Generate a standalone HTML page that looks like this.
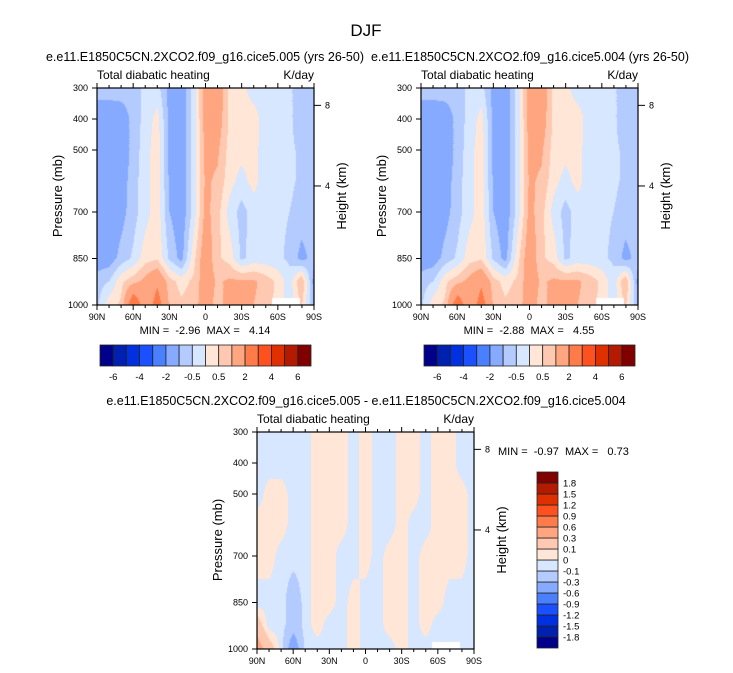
<!DOCTYPE html>
<html><head><meta charset="utf-8">
<style>
body{margin:0;background:#fff;}
#root{position:relative;width:733px;height:673px;overflow:hidden;font-family:"Liberation Sans",sans-serif;}
canvas{position:absolute;}
svg{position:absolute;left:0;top:0;}
text{white-space:pre;}
</style></head>
<body>
<div id="root">
<canvas id="c1" width="217" height="217" style="left:97px;top:88px"></canvas>
<canvas id="c2" width="217" height="217" style="left:421px;top:88px"></canvas>
<canvas id="c3" width="217" height="217" style="left:257px;top:432px"></canvas>
<svg id="svg" width="733" height="673"></svg>
</div>
<script>
// ---- data ----
const lats = [90,80,70,60,50,40,30,20,10,0,-10,-20,-30,-40,-50,-60,-70,-80,-90];
const pressures = [300,400,500,600,700,850,925,1000];
const fieldA = [
 [-0.7,-0.7,-0.7,-0.7,-0.4,-0.3,-1.2,-1.4,-0.3,1.3,1.5,0.4,0.2,-0.3,-0.3,-0.3,-0.4,-0.8,-0.6],
 [-1.5,-1.5,-1.4,-0.8,-0.3,0.2,-1.2,-1.4,-0.3,1.3,1.4,0.4,0.3,0.3,-0.3,-0.3,-0.4,-0.8,-0.7],
 [-1.5,-1.5,-1.4,-0.8,-0.2,0.3,-1.2,-1.4,-0.3,1.2,1.1,0.3,0.2,0.2,-0.3,-0.3,-0.4,-0.6,-0.6],
 [-1.5,-1.5,-1.3,-0.7,-0.2,0.3,-1.1,-1.4,-0.3,1.1,0.9,0.2,-0.2,0.2,-0.3,-0.3,-0.4,-0.6,-0.6],
 [-1.5,-1.5,-1.2,-0.7,-0.2,0.3,-1.0,-1.4,-0.3,1.2,0.7,-0.2,-0.7,-0.3,-0.3,-0.4,-0.5,-0.7,-0.6],
 [-1.4,-1.3,-0.8,-0.4,0.3,0.4,-0.6,-1.2,0.3,1.5,0.6,0.3,-0.6,-0.3,-0.3,-0.4,-0.6,-1.2,-0.8],
 [-0.7,-0.5,0.4,0.8,1.2,1.8,0.7,0.3,0.6,1.4,0.9,1.1,1.1,1.1,0.8,0.4,-0.3,1.0,-1.2],
 [-0.6,0.3,0.6,3.0,1.2,2.5,0.9,0.6,0.8,1.3,0.8,1.2,1.2,1.0,0.8,0.3,-0.3,0.6,-1.0]
];
const fieldB = [
 [-0.7,-0.7,-0.7,-0.7,-0.4,-0.3,-1.2,-1.4,-0.3,1.3,1.5,0.4,0.2,-0.3,-0.3,-0.3,-0.4,-0.8,-0.6],
 [-1.5,-1.5,-1.4,-0.8,-0.3,0.2,-1.2,-1.4,-0.3,1.3,1.4,0.4,0.3,0.3,-0.3,-0.3,-0.4,-0.8,-0.7],
 [-1.5,-1.5,-1.4,-0.8,-0.2,0.3,-1.2,-1.4,-0.3,1.2,1.1,0.3,0.2,0.2,-0.3,-0.3,-0.4,-0.6,-0.6],
 [-1.5,-1.5,-1.3,-0.7,-0.2,0.3,-1.1,-1.4,-0.3,1.1,0.9,0.2,-0.2,0.2,-0.3,-0.3,-0.4,-0.6,-0.6],
 [-1.5,-1.5,-1.2,-0.7,-0.2,0.3,-1.0,-1.4,-0.3,1.2,0.7,-0.2,-0.7,-0.3,-0.3,-0.4,-0.5,-0.7,-0.6],
 [-1.4,-1.3,-0.8,-0.4,0.3,0.4,-0.6,-1.2,0.3,1.5,0.6,0.3,-0.6,-0.3,-0.3,-0.4,-0.6,-1.2,-0.8],
 [-0.7,-0.5,0.4,0.8,1.2,1.8,0.7,0.3,0.6,1.4,0.9,1.1,1.1,1.1,0.8,0.4,-0.3,1.0,-1.2],
 [-0.6,0.3,0.6,2.8,1.2,2.5,0.9,0.6,0.8,1.3,0.8,1.2,1.2,1.0,0.8,0.3,-0.3,0.6,-1.0]
];
const fieldDiff = [
 [-0.05,-0.05,-0.05,-0.05,-0.05,0.05,0.05,0.05,-0.05,0.05,-0.05,-0.05,0.05,0.05,-0.05,0.05,0.05,-0.05,-0.05],
 [-0.05,-0.05,-0.05,-0.05,-0.05,0.05,0.05,0.05,-0.05,0.05,-0.05,-0.05,0.05,0.05,-0.05,0.05,0.05,-0.05,-0.05],
 [-0.05,0.05,0.05,-0.05,-0.05,0.05,0.05,0.05,-0.05,0.05,-0.05,-0.05,0.05,0.05,-0.05,0.05,0.05,0.05,-0.05],
 [0.05,0.05,0.05,-0.05,-0.05,0.05,0.05,0.05,-0.05,0.05,-0.05,-0.05,0.05,-0.05,-0.05,0.05,0.05,0.05,-0.05],
 [0.05,0.05,-0.05,-0.05,-0.05,0.05,0.05,-0.05,-0.05,0.05,-0.05,0.05,0.05,-0.05,0.05,0.05,0.05,0.05,-0.05],
 [-0.05,-0.05,-0.05,-0.2,-0.05,0.05,0.05,-0.05,0.05,-0.05,-0.05,0.05,0.05,-0.05,0.05,0.05,-0.05,-0.05,-0.05],
 [0.2,-0.05,-0.05,-0.2,-0.05,0.05,-0.05,-0.05,0.05,-0.05,-0.05,0.05,0.05,-0.05,0.05,-0.05,-0.05,-0.05,-0.05],
 [0.4,0.2,-0.05,-0.5,-0.05,-0.05,-0.05,-0.05,0.05,-0.05,-0.05,-0.05,0.05,-0.05,-0.05,-0.05,-0.05,-0.05,-0.05]
];
const levelsTop = [-6,-5,-4,-3,-2,-1,-0.5,0,0.5,1,2,3,4,5,6];
const levelLabelsTop = ["-6","-4","-2","-0.5","0.5","2","4","6"];
const levelsDiff = [-1.8,-1.5,-1.2,-0.9,-0.6,-0.3,-0.1,0,0.1,0.3,0.6,0.9,1.2,1.5,1.8];
const levelLabelsDiff = ["-1.8","-1.5","-1.2","-0.9","-0.6","-0.3","-0.1","0","0.1","0.3","0.6","0.9","1.2","1.5","1.8"];
const palette = ["#00008b","#0020b0","#0030e0","#1a50ff","#4a80ff","#86aaff","#b4cbff","#d7e7ff","#ffe6d6","#ffc8b0","#ffa57f","#ff7c4a","#ff5020","#e03000","#b41a00","#800000"];
const xTickLabels = ["90N","60N","30N","0","30S","60S","90S"];
const xTickLats = [90,60,30,0,-30,-60,-90];
const pTicks = [300,400,500,700,850,1000];
const hTicks = [8,4];
const hTickP = [356,616];

// ---- drawing ----
const NS="http://www.w3.org/2000/svg";
const svg=document.getElementById('svg');
function el(tag,attrs,parent){const e=document.createElementNS(NS,tag);for(const k in attrs)e.setAttribute(k,attrs[k]);(parent||svg).appendChild(e);return e;}
function txt(x,y,s,size,anchor,extra){const t=el('text',Object.assign({x:x,y:y,'font-size':size,'text-anchor':anchor||'start',fill:'#000','font-family':'Liberation Sans, sans-serif'},extra||{}));t.textContent=s;return t;}

function valueAt(field,lat,p){
  let i=0;while(i<lats.length-2 && lat<lats[i+1])i++;
  let fx=(lats[i]-lat)/(lats[i]-lats[i+1]);
  let j=0;while(j<pressures.length-2 && p>pressures[j+1])j++;
  let fy=(p-pressures[j])/(pressures[j+1]-pressures[j]);
  fx=Math.max(0,Math.min(1,fx));fy=Math.max(0,Math.min(1,fy));
  const a=field[j][i],b=field[j][i+1],c=field[j+1][i],d=field[j+1][i+1];
  return a*(1-fx)*(1-fy)+b*fx*(1-fy)+c*(1-fx)*fy+d*fx*fy;
}
function colorIdx(v,levels){let k=0;while(k<levels.length&&v>=levels[k])k++;return k;}
function drawField(id,field,levels){
  const c=document.getElementById(id),ctx=c.getContext('2d');
  for(let px=0;px<217;px++){for(let py=0;py<217;py++){
    const lat=90-px/216*180, p=300+py/216*700;
    ctx.fillStyle=palette[colorIdx(valueAt(field,lat,p),levels)];
    ctx.fillRect(px,py,1,1);
  }}
  ctx.fillStyle='#fff';ctx.fillRect(175,210,28,7);
}
drawField('c1',fieldA,levelsTop);
drawField('c2',fieldB,levelsTop);
drawField('c3',fieldDiff,levelsDiff);

function xPos(ox,lat){return ox+(90-lat)/180*217;}
function yPos(oy,p){return oy+(p-300)/700*217;}

function axes(ox,oy,name){
  const g=el('g',{});
  el('rect',{x:ox,y:oy,width:217,height:217,fill:'none',stroke:'#000','stroke-width':1.2},g);
  for(let lat=90;lat>=-90;lat-=10){
    const x=xPos(ox,lat),major=lat%30===0;
    el('line',{x1:x,x2:x,y1:oy+217,y2:oy+217+(major?5:3),stroke:'#000'},g);
    el('line',{x1:x,x2:x,y1:oy,y2:oy-(major?5:3),stroke:'#000'},g);
  }
  xTickLats.forEach((lat,i)=>{const t=txt(xPos(ox,lat),oy+232,xTickLabels[i],9,'middle',{});g.appendChild(t);});
  pTicks.forEach(p=>{const y=yPos(oy,p);
    el('line',{x1:ox-5,x2:ox,y1:y,y2:y,stroke:'#000'},g);
    const t=txt(ox-9,y+3,String(p),9,'end',{});g.appendChild(t);});
  hTicks.forEach((h,i)=>{const y=yPos(oy,hTickP[i]);
    el('line',{x1:ox+217,x2:ox+224,y1:y,y2:y,stroke:'#000'},g);
    const t=txt(ox+228,y+3,String(h),9,'start',{});g.appendChild(t);});
  const yl=txt(0,0,'Pressure (mb)',13,'middle',{transform:`translate(${ox-35},${oy+108}) rotate(-90)`,});g.appendChild(yl);
  const hl=txt(0,0,'Height (km)',13,'middle',{transform:`translate(${ox+249},${oy+108}) rotate(-90)`,});g.appendChild(hl);
  const l=txt(ox,oy-9,'Total diabatic heating',12,'start',{});g.appendChild(l);
  const r=txt(ox+217,oy-9,'K/day',12,'end',{});g.appendChild(r);
}
axes(97,88,'panel-005');
axes(421,88,'panel-004');
axes(257,432,'panel-diff');

function hbar(ox,oy,name){
  const g=el('g',{});
  const w=211/16;
  palette.forEach((c,i)=>el('rect',{x:ox+i*w,y:oy,width:w,height:21,fill:c,stroke:'#222','stroke-width':0.8},g));
  levelLabelsTop.forEach((s,i)=>{const t=txt(ox+(2*i+1)*w,oy+35,s,9.5,'middle',{});g.appendChild(t);});
}
hbar(100,345,'colorbar-005');
hbar(424,345,'colorbar-004');
(function(){
  const g=el('g',{});
  const h=176/16;
  palette.forEach((c,i)=>el('rect',{x:537,y:648-(i+1)*h,width:21,height:h,fill:c,stroke:'#222','stroke-width':0.8},g));
  levelLabelsDiff.forEach((s,i)=>{const t=txt(563,648-(i+1)*h+3.5,s,9.5,'start',{});g.appendChild(t);});
})();

txt(366,36,'DJF',17,'middle',{});
txt(205,61,'e.e11.E1850C5CN.2XCO2.f09_g16.cice5.005 (yrs 26-50)',12.5,'middle',{});
txt(530,61,'e.e11.E1850C5CN.2XCO2.f09_g16.cice5.004 (yrs 26-50)',12.5,'middle',{});
txt(366,405,'e.e11.E1850C5CN.2XCO2.f09_g16.cice5.005 - e.e11.E1850C5CN.2XCO2.f09_g16.cice5.004',12.5,'middle',{});
txt(205,334,'MIN =  -2.96  MAX =   4.14',11,'middle',{});
txt(529,334,'MIN =  -2.88  MAX =   4.55',11,'middle',{});
txt(498,455,'MIN =  -0.97  MAX =   0.73',11,'start',{});
</script>
</body></html>
